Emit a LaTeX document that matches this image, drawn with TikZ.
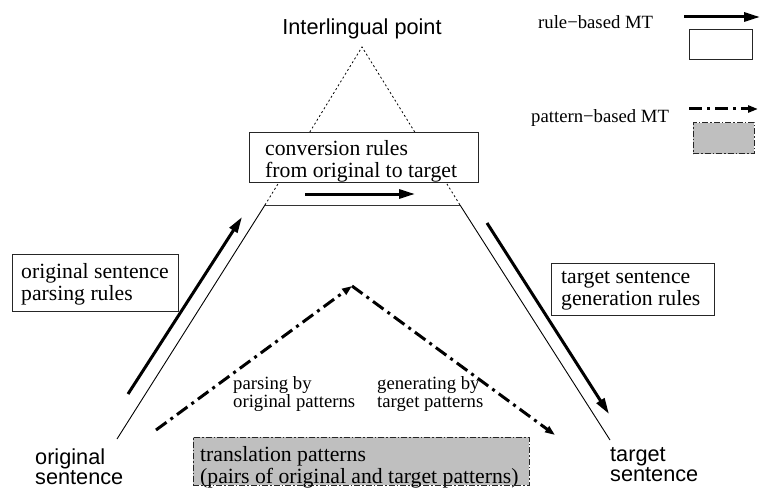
\documentclass[tikz,border=0pt]{standalone}
\usepackage{fontspec}
\setmainfont{Liberation Serif}
\newfontfamily\helv{Liberation Sans}
\usetikzlibrary{arrows.meta}
\begin{document}
\begin{tikzpicture}[x=1pt,y=-1pt,
  thinline/.style={line width=0.9pt},
  dotline/.style={line width=0.8pt, dash pattern=on 2pt off 2.5pt},
  thickarrow/.style={line width=3pt, -{Triangle[length=16pt,width=9pt]}},
  dashdot/.style={line width=3pt, dash pattern=on 13pt off 5pt on 3pt off 5pt, -{Triangle[length=10pt,width=7pt]}},
  rulebox/.style={draw=black!85, line width=1pt, fill=white, inner sep=0pt},
  patbox/.style={draw=black!85, line width=1pt, fill=black!25, inner sep=0pt, dash pattern=on 6pt off 2pt on 1.5pt off 2pt},
  bigtxt/.style={inner sep=0pt, align=left, font=\fontsize{21.7}{21.7}\selectfont},
  smalltxt/.style={inner sep=0pt, align=left, font=\fontsize{18.7}{18.3}\selectfont},
  sanstxt/.style={inner sep=0pt, align=left, font=\helv\fontsize{21.7}{20}\selectfont}
]
\useasboundingbox (0,0) rectangle (762,489);

% triangle
\coordinate (apex) at (362,47);
\coordinate (tl) at (265,205);
\coordinate (tr) at (460,205);
\coordinate (bl) at (117,439);
\coordinate (br) at (610,440);
\draw[dotline] (tl) -- (apex) -- (tr);
\draw[thinline] (bl) -- (tl);
\draw[thinline] (br) -- (tr);
\draw[thinline, draw=black!80] (tl) -- (tr);

% conversion box
\node[rulebox, minimum width=229pt, minimum height=49pt] (convbox) at (363.5,157.5) {};
\node[bigtxt, anchor=west] (convtxt) at (265,161) {conversion rules\\from original to target};
\coordinate (ca) at (305,194);
\coordinate (cb) at (415,194);
\draw[thickarrow] (ca) -- (cb);

% rule-based arrows
\coordinate (la) at (128,394);
\coordinate (lb) at (242,217);
\draw[thickarrow] (la) -- (lb);
\coordinate (ra) at (487,223);
\coordinate (rb) at (609,414);
\draw[thickarrow] (ra) -- (rb);

% side boxes
\node[rulebox, minimum width=166pt, minimum height=57pt] (ospbox) at (95,282.5) {};
\node[bigtxt, anchor=west] (osptxt) at (21,284) {original sentence\\parsing rules};
\node[rulebox, minimum width=163pt, minimum height=52pt] (tsgbox) at (632.5,289) {};
\node[bigtxt, anchor=west] (tsgtxt) at (561,290.5) {target sentence\\generation rules};

% pattern-based arrows
\coordinate (pa) at (156,430);
\coordinate (pm) at (352,286);
\coordinate (pb) at (555,435);
\draw[dashdot] (pa) -- (pm);
\draw[dashdot] (pm) -- (pb);
\node[smalltxt, anchor=west] (parsetxt) at (233,394) {parsing by\\original patterns};
\node[smalltxt, anchor=west] (gentxt) at (377,394) {generating by\\target patterns};

% translation patterns box
\node[patbox, minimum width=336pt, minimum height=48pt] (transbox) at (361,461) {};
\node[bigtxt, anchor=west] (transtxt) at (200,467) {translation patterns\\(pairs of original and target patterns)};

% sentence labels
\node[sanstxt, anchor=west] (origs) at (35,466.5) {original\\sentence};
\node[sanstxt, anchor=west] (targs) at (610,465) {target\\sentence};
\node[inner sep=0pt, anchor=base, font=\helv\fontsize{21.7}{20}\selectfont] (inter) at (362,35) {Interlingual point};

% legend
\node[inner sep=0pt, anchor=base west, font=\fontsize{18.7}{18.3}\selectfont] (lrule) at (538,29) {rule−based MT};
\coordinate (lra) at (684,17);
\coordinate (lrb) at (760,17);
\draw[thickarrow] (lra) -- (lrb);
\node[rulebox, minimum width=63pt, minimum height=30pt] (lrbox) at (720.5,45) {};
\node[inner sep=0pt, anchor=base west, font=\fontsize{18.7}{18.3}\selectfont] (lpat) at (531,123) {pattern−based MT};
\coordinate (lpa) at (689,109);
\coordinate (lpb) at (758,109);
\draw[dashdot] (lpa) -- (lpb);
\node[patbox, minimum width=61pt, minimum height=31pt] (lpbox) at (723.5,138.5) {};
\end{tikzpicture}
\end{document}
